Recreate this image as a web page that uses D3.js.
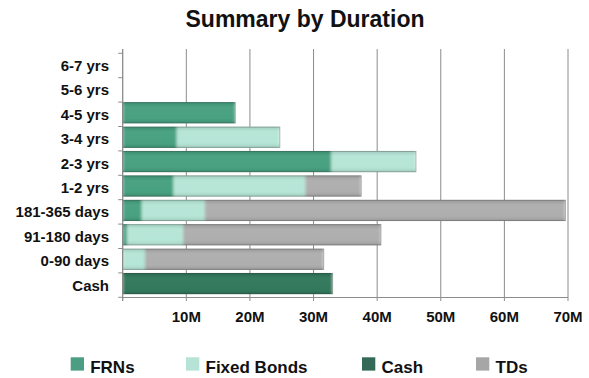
<!DOCTYPE html>
<html>
<head>
<meta charset="utf-8">
<script src="https://cdn.jsdelivr.net/npm/d3@7/dist/d3.min.js"></script>
<style>
  html, body { margin: 0; padding: 0; background: #fff; }
  svg { display: block; font-family: "Liberation Sans", Arial, sans-serif; font-weight: bold; }
</style>
</head>
<body>
<svg id="chart" width="589" height="378"></svg>
<script>
// Duration buckets, top to bottom
const categories = ["6-7 yrs", "5-6 yrs", "4-5 yrs", "3-4 yrs", "2-3 yrs", "1-2 yrs",
                    "181-365 days", "91-180 days", "0-90 days", "Cash"];
// Holdings in millions for each bucket
const frns       = [0, 0, 17.7, 8.5, 32.8, 8.0, 3.0, 0.7, 0, 0];
const fixedBonds = [0, 0, 0, 16.2, 13.3, 20.7, 9.9, 8.8, 3.5, 0];
const cash       = [0, 0, 0, 0, 0, 0, 0, 0, 0, 33.0];
const tds        = [0, 0, 0, 0, 0, 8.8, 56.7, 31.1, 28.1, 0];

const seriesNames = ["FRNs", "Fixed Bonds", "Cash", "TDs"];
const seriesColors = ["#3f9d7b", "#b3e5d5", "#2b7357", "#ababab"];
const legendColors = ["#4c9e82", "#b6e3d6", "#336a57", "#a6a6a6"];
const xTicks = [0, 10, 20, 30, 40, 50, 60, 70];
const xTickLabels = ["", "10M", "20M", "30M", "40M", "50M", "60M", "70M"];

const rows = categories.map((c, i) => ({
  cat: c, "FRNs": frns[i], "Fixed Bonds": fixedBonds[i], "Cash": cash[i], "TDs": tds[i]
}));

const svg = d3.select("#chart");
const plot = { left: 122.7, right: 568, top: 49, bottom: 297.5, bandTop: 53.3 };

const x = d3.scaleLinear().domain([0, 70]).range([plot.left, plot.right]);
const y = d3.scaleBand().domain(categories).range([plot.bandTop, plot.bottom - 0.2]).padding(0);
const barH = y.bandwidth() - 3;

// Title
svg.append("text")
  .attr("x", 305).attr("y", 27)
  .attr("text-anchor", "middle")
  .attr("font-size", 23)
  .attr("fill", "#111")
  .text("Summary by Duration");

// Vertical gridlines
svg.append("g").selectAll("line")
  .data(xTicks)
  .join("line")
  .attr("x1", d => x(d)).attr("x2", d => x(d))
  .attr("y1", plot.top).attr("y2", plot.bottom + 3.5)
  .attr("stroke", "#8c8c8c").attr("stroke-width", 1);

const totals = rows.map(r => ({ cat: r.cat, total: d3.sum(seriesNames, k => r[k]) }))
  .filter(d => d.total > 0);

// Soft shading on the bars
const defs = svg.append("defs");
const shade = defs.append("linearGradient").attr("id", "shade")
  .attr("x1", 0).attr("y1", 0).attr("x2", 0).attr("y2", 1);
shade.append("stop").attr("offset", "0%").attr("stop-color", "#000").attr("stop-opacity", 0.12);
shade.append("stop").attr("offset", "25%").attr("stop-color", "#fff").attr("stop-opacity", 0.06);
shade.append("stop").attr("offset", "75%").attr("stop-color", "#fff").attr("stop-opacity", 0.04);
shade.append("stop").attr("offset", "100%").attr("stop-color", "#000").attr("stop-opacity", 0.12);
defs.append("filter").attr("id", "soft")
  .attr("x", "-2%").attr("y", "-10%").attr("width", "104%").attr("height", "120%")
  .append("feGaussianBlur").attr("stdDeviation", "1.6 0.3");
// Keep the blended colours inside each bar's outline
defs.append("clipPath").attr("id", "barClip")
  .selectAll("rect")
  .data(totals)
  .join("rect")
  .attr("x", x(0))
  .attr("y", d => y(d.cat))
  .attr("width", d => x(d.total) - x(0))
  .attr("height", barH);

// Stacked bars
const stack = d3.stack().keys(seriesNames);
const layers = stack(rows);
const bars = svg.append("g");
bars.append("g").attr("clip-path", "url(#barClip)")
  .append("g").attr("filter", "url(#soft)")
  .selectAll("g")
  .data(layers)
  .join("g")
  .attr("fill", (d, i) => seriesColors[i])
  .selectAll("rect")
  .data(d => d.filter(s => s[1] - s[0] > 0))
  .join("rect")
  .attr("x", d => x(d[0]))
  .attr("y", d => y(d.data.cat))
  .attr("width", d => x(d[1]) - x(d[0]))
  .attr("height", barH);

// Shading and outline over each full bar
bars.append("g").selectAll("rect")
  .data(totals)
  .join("rect")
  .attr("x", x(0))
  .attr("y", d => y(d.cat) + 0.5)
  .attr("width", d => x(d.total) - x(0))
  .attr("height", barH - 1)
  .attr("fill", "url(#shade)")
  .attr("stroke", "rgba(60,60,60,0.35)")
  .attr("stroke-width", 1);

// Left axis line and category ticks
svg.append("line")
  .attr("x1", plot.left).attr("x2", plot.left)
  .attr("y1", plot.top).attr("y2", plot.bottom + 3.5)
  .attr("stroke", "#8c8c8c");
svg.append("g").selectAll("line")
  .data(categories.concat(["_end"]))
  .join("line")
  .attr("x1", plot.left - 4.5).attr("x2", plot.left)
  .attr("y1", (d, i) => plot.bandTop + i * y.step())
  .attr("y2", (d, i) => plot.bandTop + i * y.step())
  .attr("stroke", "#8c8c8c");

// Bottom axis line
svg.append("line")
  .attr("x1", plot.left).attr("x2", plot.right)
  .attr("y1", plot.bottom).attr("y2", plot.bottom)
  .attr("stroke", "#8c8c8c");

// Category labels
svg.append("g").selectAll("text")
  .data(categories)
  .join("text")
  .attr("x", 109)
  .attr("y", d => y(d) + y.bandwidth() / 2 + 5.4)
  .attr("text-anchor", "end")
  .attr("font-size", 15)
  .attr("fill", "#111")
  .text(d => d);

// Value tick labels
svg.append("g").selectAll("text")
  .data(xTicks)
  .join("text")
  .attr("x", d => x(d))
  .attr("y", 322)
  .attr("text-anchor", "middle")
  .attr("font-size", 15)
  .attr("fill", "#111")
  .text((d, i) => xTickLabels[i]);

// Legend
const legendX = [70.7, 186, 362, 476];
const legend = svg.append("g").selectAll("g")
  .data(seriesNames)
  .join("g")
  .attr("transform", (d, i) => `translate(${legendX[i]},357.3)`);
legend.append("rect")
  .attr("width", 13.3).attr("height", 13.3)
  .attr("fill", (d, i) => legendColors[i]);
legend.append("text")
  .attr("x", 19.5).attr("y", 16)
  .attr("font-size", 17)
  .attr("fill", "#111")
  .text(d => d);
</script>
</body>
</html>
